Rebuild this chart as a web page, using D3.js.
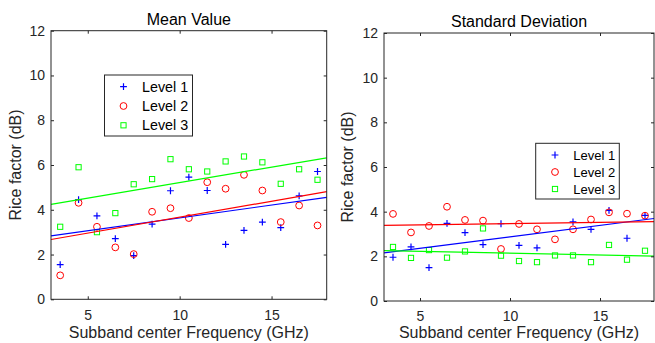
<!DOCTYPE html>
<html>
<head>
<meta charset="utf-8">
<script src="https://cdn.jsdelivr.net/npm/d3@7"></script>
<style>
  body { margin: 0; background: #fff; }
  svg { display: block; font-family: "Liberation Sans", Arial, sans-serif; }
  .axis path.domain { display: none; }
  .axis line { stroke: #262626; }
  .axis text { fill: #262626; font-size: 14px; }
</style>
</head>
<body>
<div id="chart"></div>
<script>
// subband centre frequencies (GHz)
var freq = [3.5, 4.5, 5.5, 6.5, 7.5, 8.5, 9.5, 10.5, 11.5, 12.5, 13.5, 14.5, 15.5, 16.5, 17.5];

// mean value of the Rice factor (dB)
var meanLevel1 = [1.55, 4.45, 3.73, 2.71, 1.95, 3.36, 4.85, 5.46, 4.86, 2.45, 3.08, 3.45, 3.20, 4.62, 5.71];
var meanLevel2 = [1.07, 4.31, 3.24, 2.32, 2.02, 3.91, 4.07, 3.63, 5.23, 4.94, 5.56, 4.86, 3.45, 4.19, 3.30];
var meanLevel3 = [3.24, 5.90, 3.00, 3.85, 5.14, 5.37, 6.26, 5.81, 5.71, 6.16, 6.38, 6.12, 5.16, 5.81, 5.34];

// standard deviation of the Rice factor (dB)
var stdLevel1 = [1.96, 2.42, 1.49, 3.48, 3.06, 2.52, 3.46, 2.49, 2.38, null, 3.54, 3.21, 4.06, 2.81, 3.83];
var stdLevel2 = [3.90, 3.07, 3.36, 4.22, 3.63, 3.60, 2.33, 3.45, 3.21, 2.76, 3.21, 3.65, 3.97, 3.91, 3.82];
var stdLevel3 = [2.42, 1.93, 2.28, 1.94, 2.22, 3.25, 2.03, 1.79, 1.74, 2.04, 2.04, 1.74, 2.51, 1.85, 2.25];

var levelNames = ["Level 1", "Level 2", "Level 3"];
var levelColors = ["#0000ff", "#ff0000", "#00ff00"];
var levelMarkers = ["plus", "circle", "square"];
var xTicks = [5, 10, 15];
var yTicks = [0, 2, 4, 6, 8, 10, 12];
var xDomain = [3, 18];
var yDomain = [0, 12];

var svg = d3.select("#chart").append("svg")
  .attr("width", 655)
  .attr("height", 343);

function marker(g, kind, color) {
  if (kind == "plus") {
    g.append("path").attr("d", "M-3.4,0H3.4M0,-3.4V3.4")
      .attr("stroke", color).attr("stroke-width", 1.2).attr("fill", "none");
  } else if (kind == "circle") {
    g.append("circle").attr("r", 3.4)
      .attr("stroke", color).attr("stroke-width", 1).attr("fill", "none");
  } else {
    g.append("rect").attr("x", -2.6).attr("y", -2.6).attr("width", 5.2).attr("height", 5.2)
      .attr("stroke", color).attr("stroke-width", 1).attr("fill", "none");
  }
}

// least squares line through the non-missing points
function fit(values) {
  var pts = freq.map((f, i) => [f, values[i]]).filter(p => p[1] != null);
  var mx = d3.mean(pts, p => p[0]), my = d3.mean(pts, p => p[1]);
  var sxy = d3.sum(pts, p => (p[0] - mx) * (p[1] - my));
  var sxx = d3.sum(pts, p => (p[0] - mx) * (p[0] - mx));
  var b = sxy / sxx;
  return xDomain.map(x => [x, my + b * (x - mx)]);
}

function panel(opt) {
  var x = d3.scaleLinear().domain(xDomain).range([opt.left, opt.right]);
  var y = d3.scaleLinear().domain(yDomain).range([opt.bottom, opt.top]);
  var g = svg.append("g");

  var plot = g.append("g");
  opt.series.forEach((values, k) => {
    freq.forEach((f, i) => {
      if (values[i] == null) return;
      var m = plot.append("g").attr("transform", "translate(" + x(f) + "," + y(values[i]) + ")");
      marker(m, levelMarkers[k], levelColors[k]);
    });
  });
  opt.series.forEach((values, k) => {
    plot.append("path")
      .datum(fit(values))
      .attr("d", d3.line().x(d => x(d[0])).y(d => y(d[1])))
      .attr("stroke", levelColors[k])
      .attr("stroke-width", 1.2)
      .attr("fill", "none");
  });

  g.append("g").attr("class", "axis")
    .attr("transform", "translate(0," + opt.bottom + ")")
    .call(d3.axisBottom(x).tickValues(xTicks).tickSizeInner(-3).tickSizeOuter(0).tickPadding(10.5));
  g.append("g").attr("class", "axis")
    .attr("transform", "translate(0," + opt.top + ")")
    .call(d3.axisTop(x).tickValues(xTicks).tickSizeInner(-3).tickSizeOuter(0).tickFormat(""));
  g.append("g").attr("class", "axis")
    .attr("transform", "translate(" + opt.left + ",0)")
    .call(d3.axisLeft(y).tickValues(yTicks).tickSizeInner(-3).tickSizeOuter(0).tickPadding(6));
  g.append("g").attr("class", "axis")
    .attr("transform", "translate(" + opt.right + ",0)")
    .call(d3.axisRight(y).tickValues(yTicks).tickSizeInner(-3).tickSizeOuter(0).tickFormat(""));

  g.append("rect")
    .attr("x", opt.left).attr("y", opt.top)
    .attr("width", opt.right - opt.left).attr("height", opt.bottom - opt.top)
    .attr("fill", "none").attr("stroke", "#262626").attr("stroke-width", 1);

  g.append("text")
    .attr("x", (opt.left + opt.right) / 2).attr("y", opt.top - 6)
    .attr("text-anchor", "middle").style("font-size", "16px").attr("fill", "#000")
    .text(opt.title);
  g.append("text")
    .attr("x", (opt.left + opt.right) / 2).attr("y", 338)
    .attr("text-anchor", "middle").style("font-size", "16px").attr("fill", "#262626")
    .text("Subband center Frequency (GHz)");
  g.append("text")
    .attr("transform", "translate(" + opt.ylabelX + "," + (opt.top + opt.bottom) / 2 + ")rotate(-90)")
    .attr("text-anchor", "middle").style("font-size", "16px").attr("fill", "#262626")
    .text("Rice factor (dB)");

  // legend
  var lg = opt.legend;
  g.append("rect")
    .attr("x", lg.x).attr("y", lg.y).attr("width", lg.w).attr("height", lg.h)
    .attr("fill", "#fff").attr("stroke", "#262626").attr("stroke-width", 1);
  levelNames.forEach((name, k) => {
    var ry = lg.y + lg.first + k * lg.step;
    var m = g.append("g").attr("transform", "translate(" + (lg.x + lg.mx) + "," + ry + ")");
    marker(m, levelMarkers[k], levelColors[k]);
    g.append("text")
      .attr("x", lg.x + lg.tx).attr("y", ry).attr("dy", "0.35em")
      .style("font-size", lg.font).attr("fill", "#000")
      .text(name);
  });
}

panel({
  left: 51, right: 326.7, top: 30.7, bottom: 299.3,
  title: "Mean Value", ylabelX: 21,
  series: [meanLevel1, meanLevel2, meanLevel3],
  legend: { x: 104.5, y: 75, w: 88, h: 61, first: 11.7, step: 19.3, mx: 19, tx: 37.5, font: "14.3px" }
});

panel({
  left: 384, right: 654, top: 33, bottom: 301,
  title: "Standard Deviation", ylabelX: 353,
  series: [stdLevel1, stdLevel2, stdLevel3],
  legend: { x: 535.7, y: 143.3, w: 83.6, h: 55.7, first: 11.7, step: 17, mx: 19.3, tx: 37.5, font: "13px" }
});
</script>
</body>
</html>
